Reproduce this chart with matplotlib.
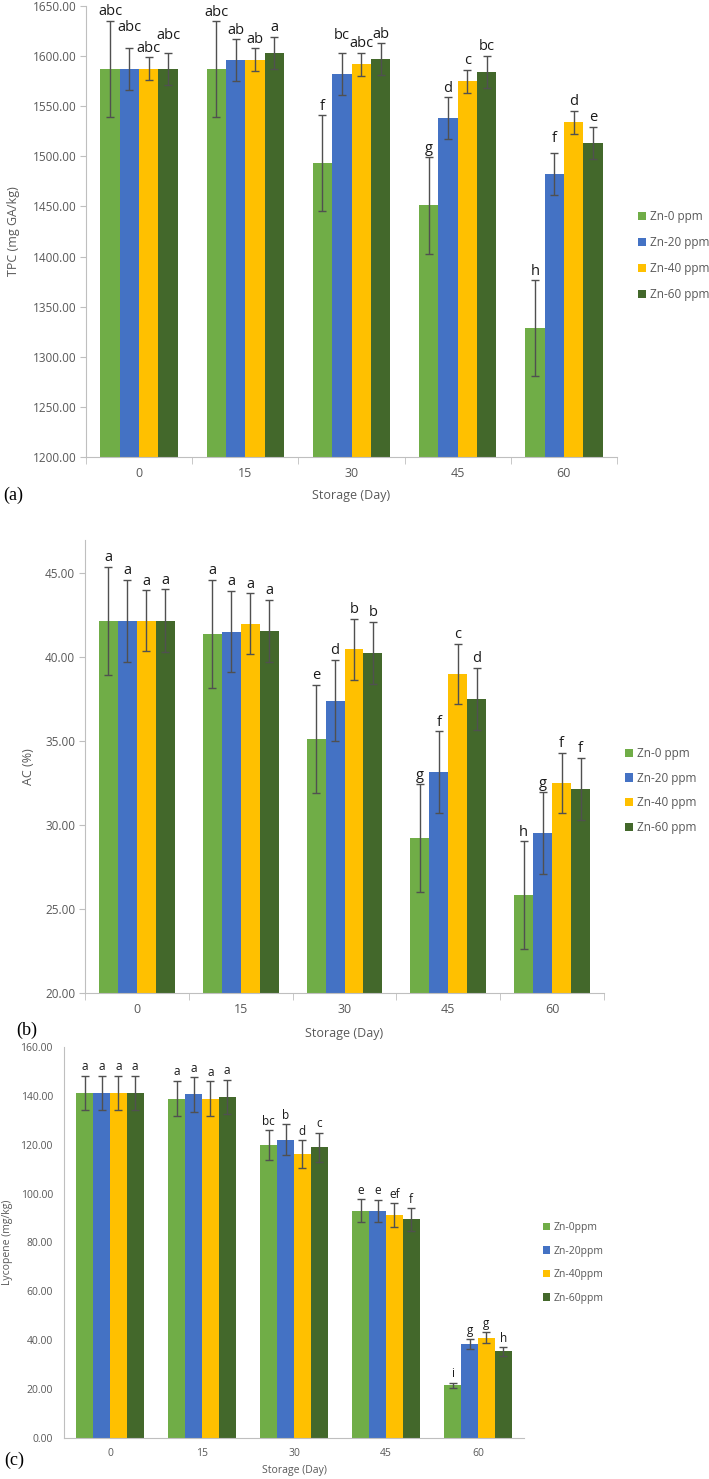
import matplotlib
matplotlib.use("Agg")
import matplotlib.pyplot as plt
import numpy as np

plt.rcParams['font.family'] = ['Open Sans', 'DejaVu Sans']

days = ["0", "15", "30", "45", "60"]
colors = ["#70AD47", "#4472C4", "#FFC000", "#43682B"]

# (a) TPC
tpc_labels = ["Zn-0 ppm", "Zn-20 ppm", "Zn-40 ppm", "Zn-60 ppm"]
tpc = [[1587.5, 1587.0, 1493.0, 1451.0, 1328.5],
       [1587.5, 1596.0, 1582.0, 1538.0, 1482.0],
       [1587.5, 1596.5, 1592.0, 1575.0, 1534.0],
       [1587.5, 1603.5, 1597.0, 1584.5, 1513.5]]
tpc_err = [48.0, 21.0, 11.5, 16.0]
tpc_let = [["abc", "abc", "f", "g", "h"],
           ["abc", "ab", "bc", "d", "f"],
           ["abc", "ab", "abc", "c", "d"],
           ["abc", "a", "ab", "bc", "e"]]

# (b) AC
ac_labels = ["Zn-0 ppm", "Zn-20 ppm", "Zn-40 ppm", "Zn-60 ppm"]
ac = [[42.15, 41.35, 35.12, 29.2, 25.82],
      [42.15, 41.50, 37.40, 33.15, 29.52],
      [42.15, 41.97, 40.45, 38.98, 32.50],
      [42.15, 41.55, 40.22, 37.48, 32.15]]
ac_err = [3.22, 2.43, 1.8, 1.86]
ac_let = [["a", "a", "e", "g", "h"],
          ["a", "a", "d", "f", "g"],
          ["a", "a", "b", "c", "f"],
          ["a", "a", "b", "d", "f"]]

# (c) Lycopene
lyc_labels = ["Zn-0ppm", "Zn-20ppm", "Zn-40ppm", "Zn-60ppm"]
lyc = [[141.2, 138.9, 119.8, 92.9, 21.5],
       [141.2, 140.6, 122.0, 92.9, 38.5],
       [141.2, 138.9, 116.1, 91.2, 41.1],
       [141.2, 139.5, 118.9, 89.5, 35.4]]
lyc_err = [[7.1, 7.2, 6.1, 4.7, 1.0],
           [7.1, 7.1, 6.3, 4.5, 1.9],
           [7.1, 7.1, 5.8, 4.8, 2.2],
           [7.1, 7.1, 5.9, 4.6, 1.8]]
lyc_let = [["a", "a", "bc", "e", "i"],
           ["a", "a", "b", "e", "g"],
           ["a", "a", "d", "ef", "g"],
           ["a", "a", "c", "f", "h"]]

# extra lift (points) for a few crowded letters in (a)
nudge_a = {(0, 1): 8, (0, 3): 6, (2, 1): 6.5, (4, 1): 4}

W, H = 709, 1479
fig = plt.figure(figsize=(W / 100, H / 100), dpi=100)


def px_axes(l, t, r, b):
    return fig.add_axes([l / W, 1 - b / H, (r - l) / W, (b - t) / H])


def draw(ax, vals, errs, lets, labels, fs_let, nudge=None):
    x = np.arange(len(days))
    w = 0.73 / 4
    for i in range(4):
        e = errs[i] if np.ndim(errs[i]) else [errs[i]] * len(days)
        xs = x + (i - 1.5) * w
        ax.bar(xs, vals[i], w, color=colors[i], label=labels[i], zorder=2)
        ax.errorbar(xs, vals[i], yerr=e, fmt="none", ecolor="#505050",
                    elinewidth=1, capsize=3, capthick=1, zorder=3)
        for j in range(len(days)):
            dy = 6.5 + (nudge or {}).get((j, i), 0)
            ax.annotate(lets[i][j], (xs[j], vals[i][j] + e[j]),
                        xytext=(0, dy), textcoords="offset points",
                        ha="center", va="center", fontsize=fs_let,
                        color="#1a1a1a")
    ax.set_xlim(-0.5, len(days) - 0.5)
    ax.set_xticks(x)
    ax.set_xticklabels(days)
    for s in ["top", "right"]:
        ax.spines[s].set_visible(False)
    for s in ["left", "bottom"]:
        ax.spines[s].set_color("#BFBFBF")
    ax.tick_params(colors="#595959", labelcolor="#595959")


# (a)
ax1 = px_axes(86, 6, 617, 457)
draw(ax1, tpc, tpc_err, tpc_let, tpc_labels, 10.5, nudge_a)
ax1.set_ylim(1200, 1650)
ax1.set_yticks(np.arange(1200, 1651, 50))
ax1.set_yticklabels([f"{v:.2f}" for v in np.arange(1200, 1651, 50)])
ax1.set_ylabel("TPC (mg GA/kg)", fontsize=9, color="#595959")
ax1.yaxis.set_label_coords(-0.124, 0.5)
ax1.set_xlabel("Storage (Day)", fontsize=9, color="#595959")
ax1.xaxis.set_label_coords(0.5, -0.07)

# (b)
ax2 = px_axes(85, 540, 604, 993)
draw(ax2, ac, ac_err, ac_let, ac_labels, 10.5)
ax2.set_ylim(20, 46.95)
ax2.set_yticks(np.arange(20, 46, 5))
ax2.set_yticklabels([f"{v:.2f}" for v in np.arange(20, 46, 5)])
ax2.set_ylabel("AC (%)", fontsize=9, color="#595959")
ax2.yaxis.set_label_coords(-0.096, 0.5)
ax2.set_xlabel("Storage (Day)", fontsize=9, color="#595959")
ax2.xaxis.set_label_coords(0.5, -0.074)

for ax in (ax1, ax2):
    ax.set_xticks(np.arange(-0.5, len(days)), minor=True)
    ax.tick_params(axis="x", which="major", length=0, pad=7, labelsize=9)
    ax.tick_params(axis="x", which="minor", length=5, color="#BFBFBF")
    ax.tick_params(axis="y", length=4, color="#BFBFBF", pad=3, labelsize=8.5)

# (c)
ax3 = px_axes(64, 1047, 524, 1438)
draw(ax3, lyc, lyc_err, lyc_let, lyc_labels, 8.5)
ax3.set_ylim(0, 160)
ax3.set_yticks(np.arange(0, 161, 20))
ax3.set_yticklabels([f"{v:.2f}" for v in np.arange(0, 161, 20)])
ax3.tick_params(axis="both", length=0, labelsize=7.5)
ax3.tick_params(axis="y", pad=8)
ax3.tick_params(axis="x", pad=7)
ax3.set_ylabel("Lycopene (mg/kg)", fontsize=7.5, color="#595959")
ax3.yaxis.set_label_coords(-0.111, 0.5)
ax3.set_xlabel("Storage (Day)", fontsize=7.5, color="#595959")
ax3.xaxis.set_label_coords(0.502, -0.07)

leg_kw = dict(loc="center left", frameon=False, handlelength=0.7,
              handleheight=0.7, handletextpad=0.3, borderpad=0,
              borderaxespad=0, bbox_transform=fig.transFigure,
              labelcolor="#595959")
ax1.legend(bbox_to_anchor=(638 / W, 1 - 255.5 / H), fontsize=8.5,
           labelspacing=1.1, **leg_kw)
ax2.legend(bbox_to_anchor=(625 / W, 1 - 790.5 / H), fontsize=8.5,
           labelspacing=1.0, **leg_kw)
ax3.legend(bbox_to_anchor=(543 / W, 1 - 1263 / H), fontsize=7.5,
           labelspacing=1.2, **leg_kw)

for txt, xp, yp in [("(a)", 3, 495), ("(b)", 16, 1030), ("(c)", 4, 1460)]:
    fig.text(xp / W, 1 - yp / H, txt, fontsize=13, va="center",
             family="Liberation Serif")

fig.savefig("out.png", dpi=100)
